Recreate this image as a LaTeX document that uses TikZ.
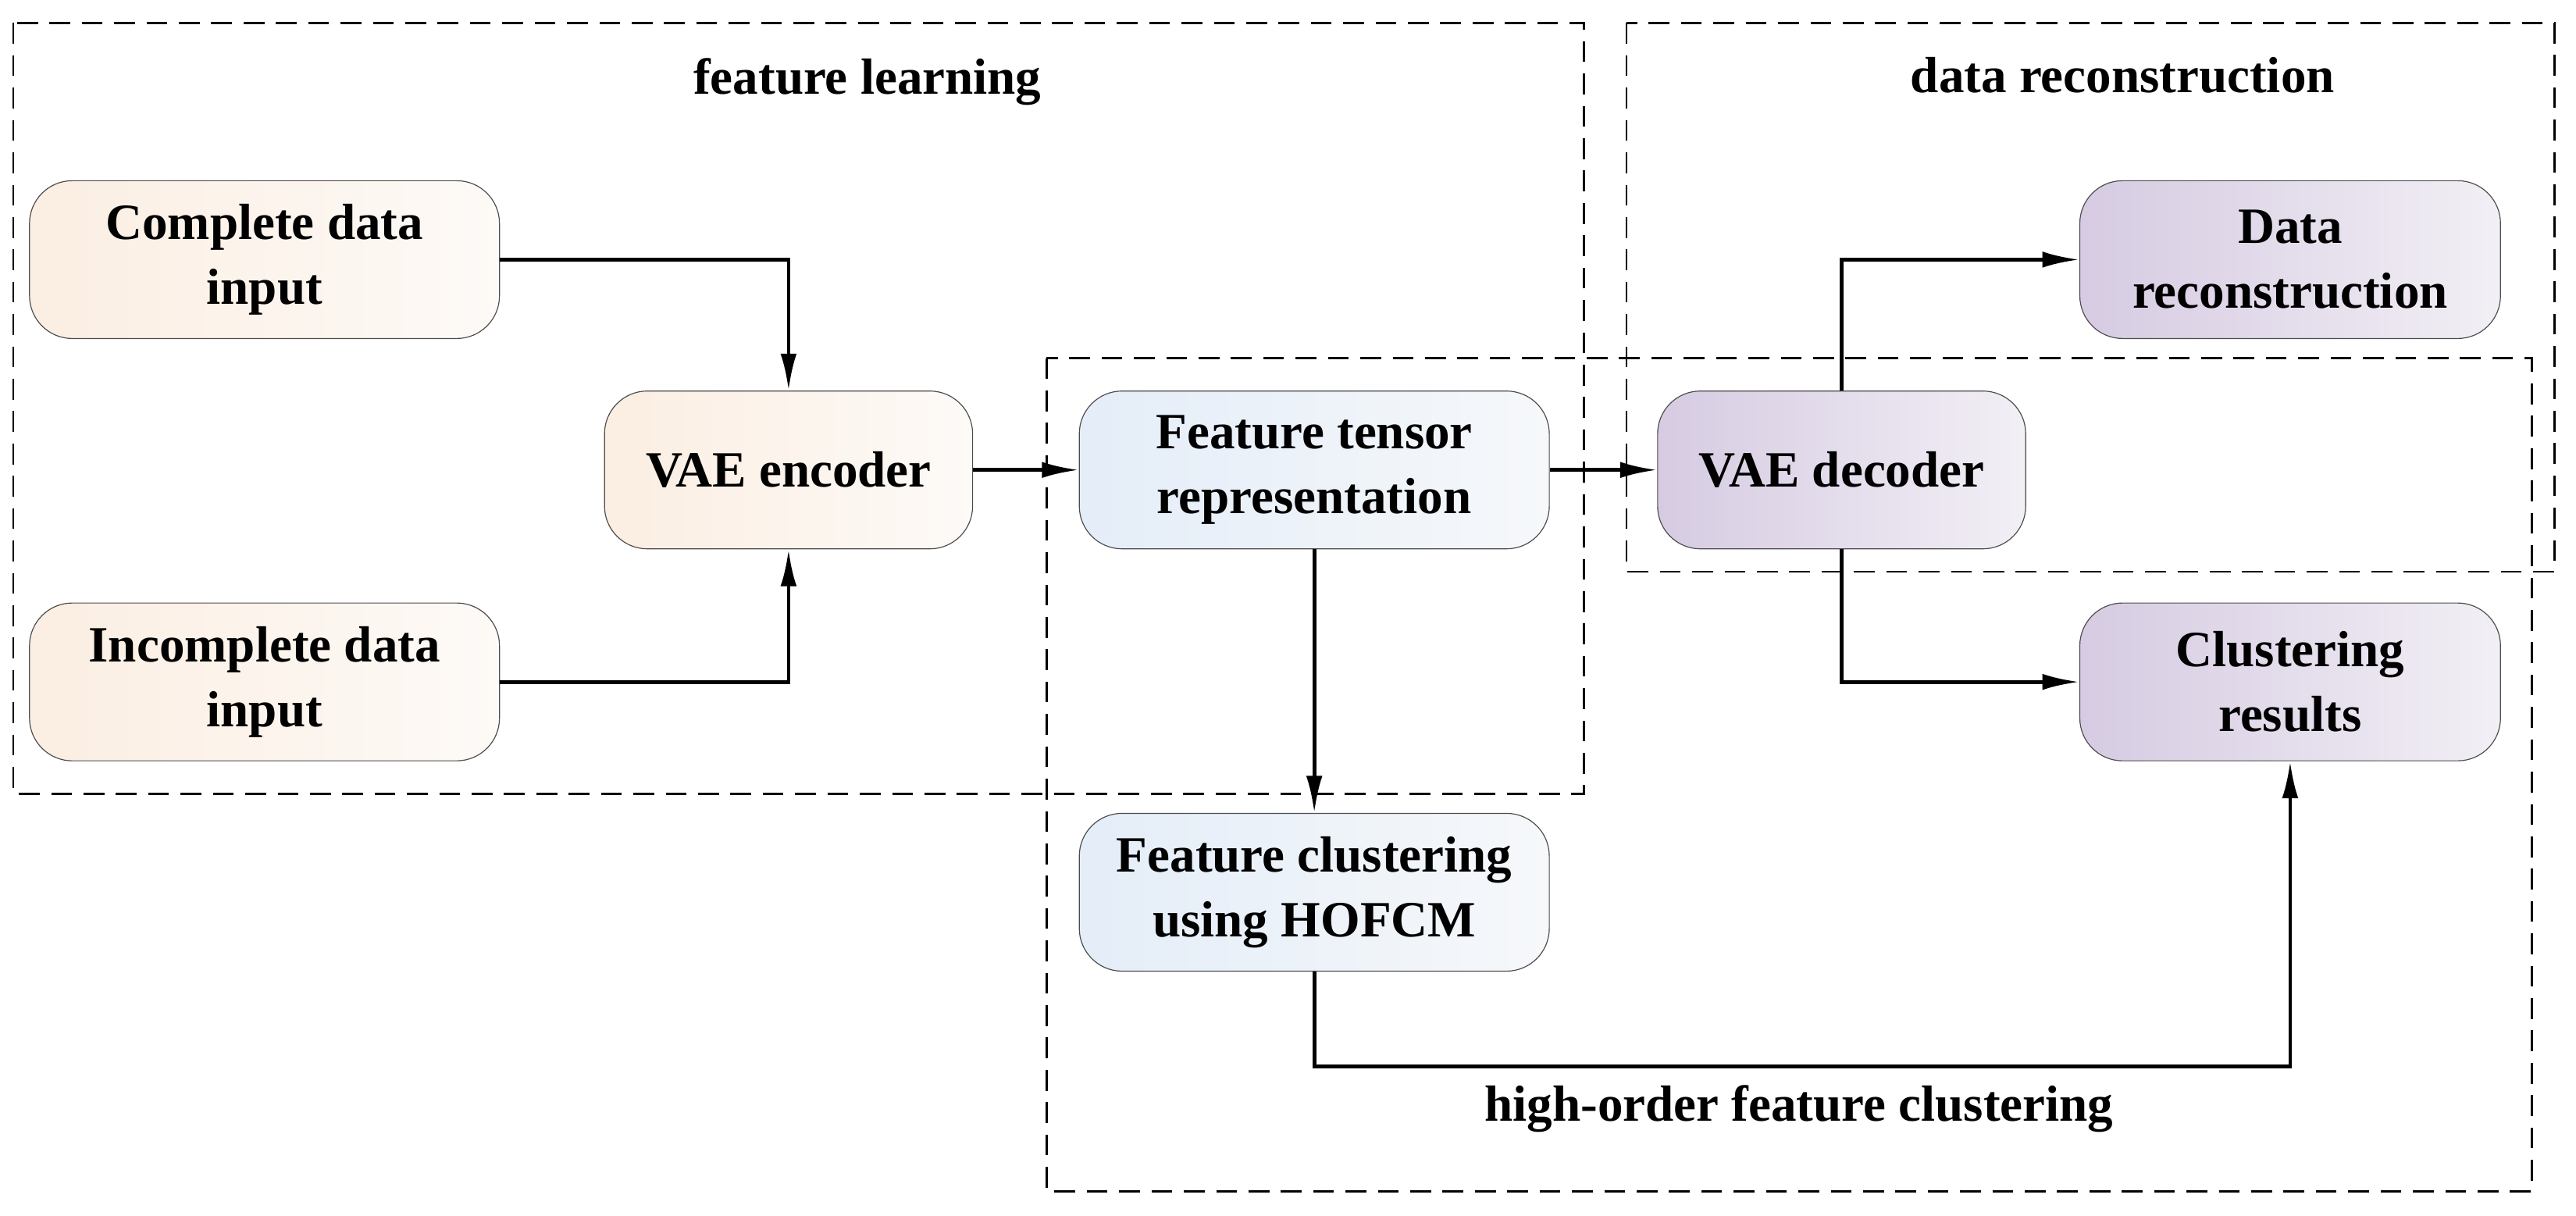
\documentclass[tikz,border=0pt]{standalone}
\usepackage{fontspec}
\setmainfont{Liberation Serif}
\usetikzlibrary{arrows.meta}
\definecolor{orL}{HTML}{FBEEE2}\definecolor{orR}{HTML}{FDFAF7}
\definecolor{blL}{HTML}{E4EDF8}\definecolor{blR}{HTML}{F6F8FA}
\definecolor{puL}{HTML}{D6CBE2}\definecolor{puR}{HTML}{F2EFF5}
\begin{document}
\begin{tikzpicture}[x=0.025cm,y=-0.025cm,
  box/.style={draw=black!70,line width=0.4pt,rounded corners=0.65cm,align=center,
    font=\fontsize{22}{28}\selectfont\bfseries,inner sep=0pt},
  sm/.style={box,minimum width=7.15cm,minimum height=2.4cm},
  vae/.style={box,minimum width=5.6cm,minimum height=2.4cm},
  dr/.style={box,minimum width=6.4cm,minimum height=2.4cm},
  orange/.style={left color=orL,right color=orR},
  blue/.style={left color=blL,right color=blR},
  purple/.style={left color=puL,right color=puR},
  grp/.style={draw,dash pattern=on 9pt off 5pt,line width=0.9pt},
  lab/.style={font=\fontsize{22}{26}\selectfont\bfseries},
  arr/.style={line width=1.6pt,-{Latex[length=16pt,width=7pt]}}]
\useasboundingbox (0,0) rectangle (1568,740);
\draw[grp] (8,14) rectangle (964,483);
\draw[grp] (990,14) rectangle (1555,348);
\draw[grp] (637,218) rectangle (1541,725);
\node[lab] (l1) at (528,50) {feature learning};
\node[lab] (l2) at (1292,46) {data reconstruction};
\node[lab] (l3) at (1095,675) {high-order feature clustering};
\node[sm,orange] (cd) at (161,158) {Complete data\\input};
\node[sm,orange] (id) at (161,415) {Incomplete data\\input};
\node[vae,orange] (enc) at (480,286) {VAE encoder};
\node[sm,blue] (ft) at (800,286) {Feature tensor\\representation};
\node[vae,purple] (dec) at (1121,286) {VAE decoder};
\node[dr,purple] (rec) at (1394,158) {Data\\reconstruction};
\node[dr,purple] (cr) at (1394,415) {Clustering\\results};
\node[sm,blue] (fc) at (800,543) {Feature clustering\\using HOFCM};
\draw[arr] (cd.east) -| (enc.north);
\draw[arr] (id.east) -| (enc.south);
\draw[arr] (enc) -- (ft);
\draw[arr] (ft) -- (dec);
\draw[arr] (ft) -- (fc);
\draw[arr] (dec.north) |- (rec.west);
\draw[arr] (dec.south) |- (cr.west);
\coordinate (c1) at (800,649);
\draw[arr] (fc.south) -- (c1) -| (cr.south);
\end{tikzpicture}
\end{document}
